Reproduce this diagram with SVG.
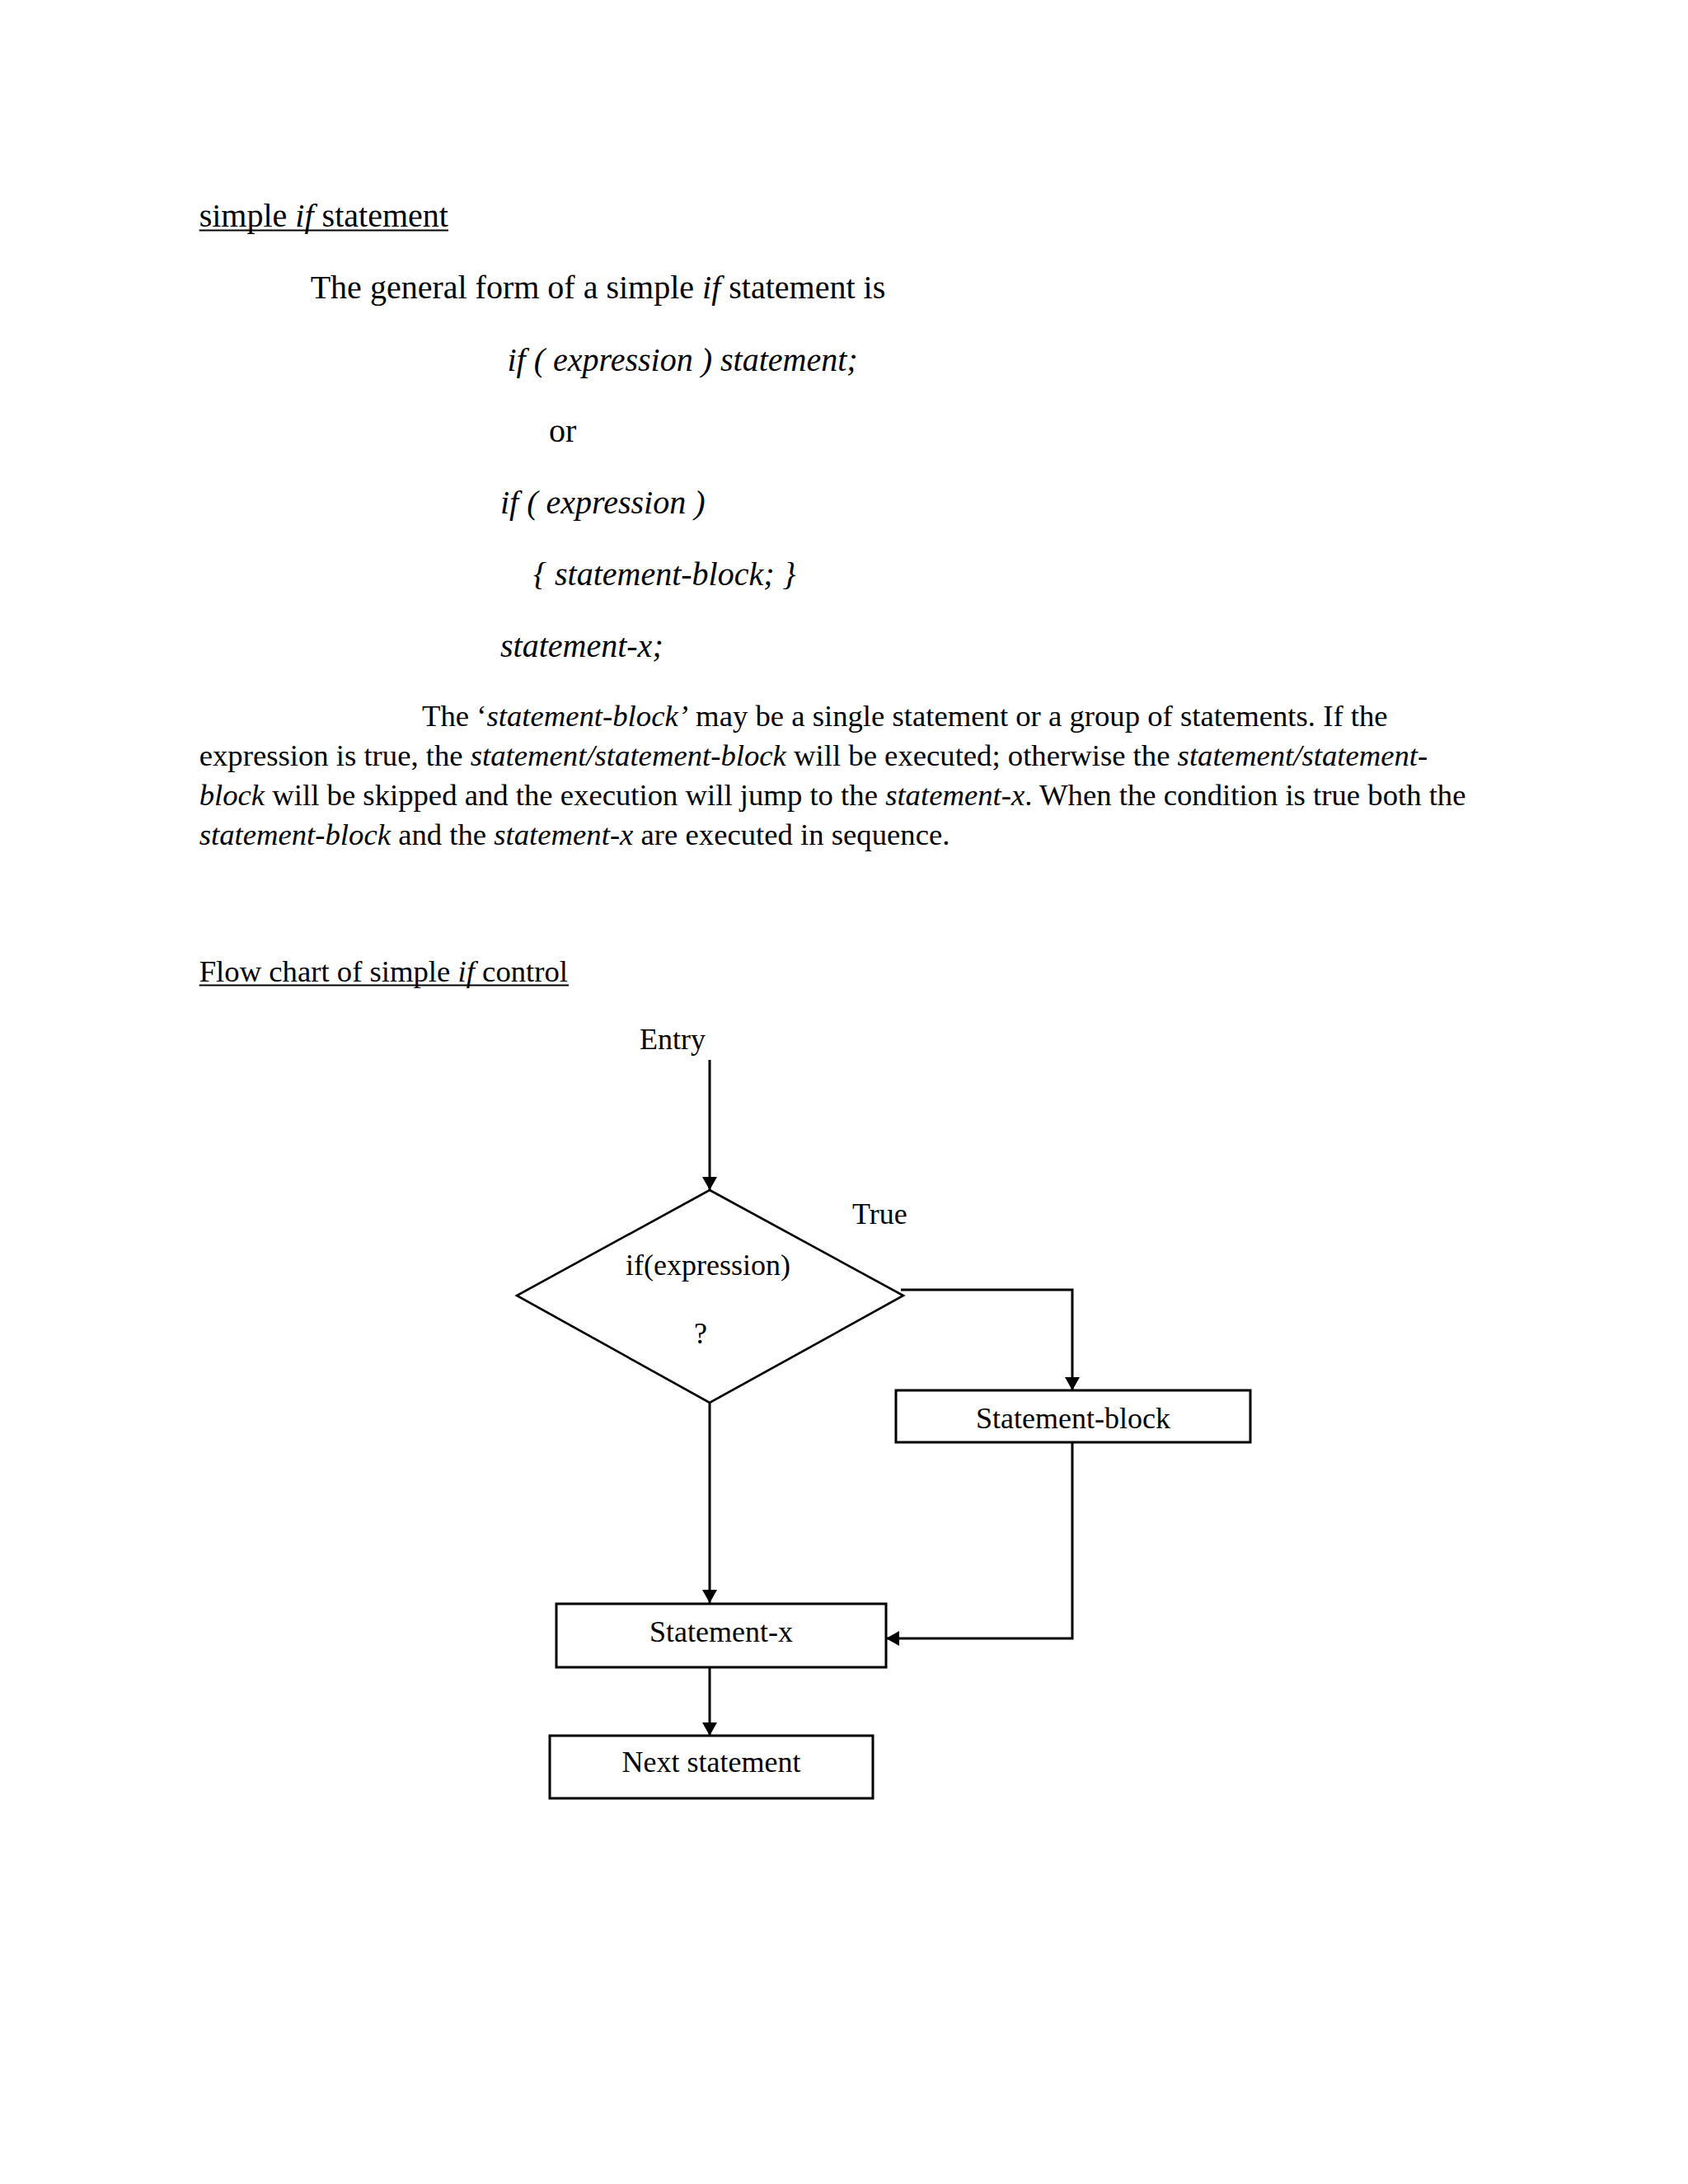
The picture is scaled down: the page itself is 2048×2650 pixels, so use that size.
<svg xmlns="http://www.w3.org/2000/svg" width="2048" height="2650" viewBox="0 0 2048 2650">
<style>
text{font-family:"Liberation Serif","Times New Roman",serif;fill:#000}
.b{font-size:40px}
.p{font-size:36.7px}
.d{font-size:36px}
.i{font-style:italic}
.c{text-anchor:middle}
.box{fill:#fff;stroke:#000;stroke-width:3}
.dia{fill:#fff;stroke:#000;stroke-width:2.6}
.ln{fill:none;stroke:#000;stroke-width:3}
.ul{stroke:#000;stroke-width:2.2}
</style>
<defs>
<marker id="arr" viewBox="0 0 16 18" refX="16" refY="9" markerWidth="16" markerHeight="18" markerUnits="userSpaceOnUse" orient="auto">
<path d="M0,0 L16,9 L0,18 z" fill="#000"/>
</marker>
</defs>
<rect width="2048" height="2650" fill="#fff"/>

<g id="text-section">
<text class="b" x="241.7" y="275">simple <tspan class="i">if</tspan> statement</text>
<line class="ul" x1="241.7" y1="279.5" x2="544" y2="279.5"/>
<text class="b" x="376.7" y="362">The general form of a simple <tspan class="i">if</tspan> statement is</text>
<text class="b i" x="615.5" y="450">if ( expression ) statement;</text>
<text class="b" x="666" y="536">or</text>
<text class="b i" x="607" y="623">if ( expression )</text>
<text class="b i" x="647" y="710">{ statement-block; }</text>
<text class="b i" x="607" y="797">statement-x;</text>
<text class="p" x="512" y="880.5">The ‘<tspan class="i">statement-block’</tspan> may be a single statement or a group of statements. If the</text>
<text class="p" x="241.7" y="928.5">expression is true, the <tspan class="i">statement/statement-block</tspan> will be executed; otherwise the <tspan class="i">statement/statement-</tspan></text>
<text class="p" x="241.7" y="976.5"><tspan class="i">block</tspan> will be skipped and the execution will jump to the <tspan class="i">statement-x</tspan>. When the condition is true both the</text>
<text class="p" x="241.7" y="1024.5"><tspan class="i">statement-block</tspan> and the <tspan class="i">statement-x</tspan> are executed in sequence.</text>
<text class="p" x="241.7" y="1190.7">Flow chart of simple <tspan class="i">if</tspan> control</text>
<line class="ul" x1="241.7" y1="1195.5" x2="690" y2="1195.5"/>
</g>

<g id="connectors">
<line class="ln" x1="861" y1="1286" x2="861" y2="1444" marker-end="url(#arr)"/>
<polyline class="ln" points="1093,1565 1301,1565 1301,1687" marker-end="url(#arr)"/>
<line class="ln" x1="861" y1="1702" x2="861" y2="1945" marker-end="url(#arr)"/>
<polyline class="ln" points="1301,1746 1301,1988 1075,1988" marker-end="url(#arr)"/>
<line class="ln" x1="861" y1="2019" x2="861" y2="2106" marker-end="url(#arr)"/>
</g>

<g id="entry">
<text class="d" x="776" y="1272.7">Entry</text>
</g>

<g id="decision">
<polygon class="dia" points="861,1444 1096,1572 861,1702 627,1572"/>
<text class="d c" x="859" y="1547">if(expression)</text>
<text class="d c" x="850" y="1630">?</text>
</g>

<g id="true-label">
<text class="d" x="1034" y="1485">True</text>
</g>

<g id="statement-block">
<rect class="box" x="1087" y="1687" width="430" height="63"/>
<text class="d c" x="1302" y="1733">Statement-block</text>
</g>

<g id="statement-x">
<rect class="box" x="675" y="1946" width="400" height="77"/>
<text class="d c" x="875" y="1992">Statement-x</text>
</g>

<g id="next-statement">
<rect class="box" x="667" y="2106" width="392" height="76"/>
<text class="d c" x="863" y="2150">Next statement</text>
</g>
</svg>
